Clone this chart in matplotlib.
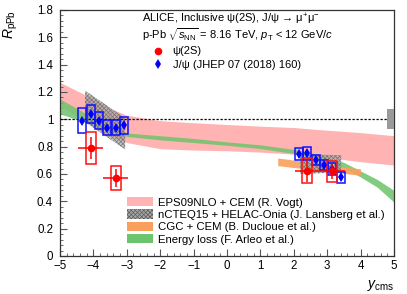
import numpy as np
import matplotlib
matplotlib.use("Agg")
import matplotlib.pyplot as plt
from matplotlib.patches import Rectangle, Patch
from matplotlib.lines import Line2D

plt.rcParams['font.family'] = ['Liberation Sans', 'DejaVu Sans']
plt.rcParams['mathtext.fontset'] = 'custom'
plt.rcParams['mathtext.rm'] = 'Liberation Sans'
plt.rcParams['mathtext.it'] = 'Liberation Sans:italic'
plt.rcParams['hatch.linewidth'] = 0.5

# J/psi (JHEP 07 (2018) 160)
jpsi_y = [-4.335, -4.085, -3.835, -3.585, -3.335, -3.085,
          2.155, 2.405, 2.655, 2.905, 3.155, 3.405]
jpsi_r = [0.99, 1.04, 0.99, 0.94, 0.94, 0.955,
          0.745, 0.75, 0.70, 0.665, 0.635, 0.575]
jpsi_stat = [0.02] * 12
jpsi_syst = [0.09, 0.067, 0.06, 0.053, 0.053, 0.06,
             0.046, 0.045, 0.036, 0.034, 0.044, 0.038]

# psi(2S)
psi_y = [-4.085, -3.335, 2.405, 3.155]
psi_xerr = [0.375, 0.375, 0.375, 0.375]
psi_r = [0.79, 0.571, 0.625, 0.62]
psi_stat = [0.081, 0.067, 0.08, 0.055]
psi_syst = [0.115, 0.088, 0.09, 0.076]

# global uncertainty
glob_unc = 0.073

# EPS09NLO + CEM
eps_x = [-5, -4.5, -4, -3.5, -3, -2, -1, 0, 1, 2, 3, 4, 5]
eps_lo = [1.10, 1.02, 0.95, 0.88, 0.83, 0.785, 0.775, 0.77, 0.76, 0.745, 0.72, 0.69, 0.665]
eps_hi = [1.27, 1.21, 1.15, 1.08, 1.03, 0.99, 0.975, 0.962, 0.95, 0.94, 0.92, 0.903, 0.88]

# Energy loss
el_x = [-5, -4.5, -4, -3.5, -3, -2, -1, 0, 1, 2, 2.5, 3, 3.5, 4, 4.5, 5]
el_lo = [1.04, 1.00, 0.955, 0.92, 0.875, 0.85, 0.83, 0.81, 0.786, 0.75, 0.725,
         0.685, 0.645, 0.578, 0.503, 0.394]
el_hi = [1.15, 1.08, 1.01, 0.955, 0.90, 0.88, 0.86, 0.835, 0.813, 0.78, 0.757,
         0.72, 0.685, 0.622, 0.56, 0.48]

# nCTEQ15 + HELAC-Onia
nc_bw_x = [-4.25, -3.05]
nc_bw_lo = [0.98, 0.78]
nc_bw_hi = [1.21, 1.01]
nc_fw_x = [2.19, 3.42]
nc_fw_lo = [0.60, 0.612]
nc_fw_hi = [0.745, 0.737]

# CGC + CEM
cgc_x = [1.52, 4.0]
cgc_lo = [0.661, 0.590]
cgc_hi = [0.717, 0.637]

pink = '#ffb3b3'
green = '#6cc46c'
orange = '#f9a05c'
grey = '#a8a8a8'
hatch_col = '#5a5a5a'

fig = plt.figure(figsize=(4.07, 2.94), dpi=100)
ax = fig.add_axes([0.1474, 0.1293, 0.8206, 0.8367])

ax.fill_between(eps_x, eps_lo, eps_hi, color=pink, lw=0, zorder=1)
ax.fill_between(el_x, el_lo, el_hi, color=green, alpha=0.85, lw=0, zorder=2)
ax.fill_between(cgc_x, cgc_lo, cgc_hi, color=orange, alpha=0.9, lw=0, zorder=2)
for xs, lo, hi in [(nc_bw_x, nc_bw_lo, nc_bw_hi), (nc_fw_x, nc_fw_lo, nc_fw_hi)]:
    ax.fill_between(xs, lo, hi, facecolor=grey, edgecolor=hatch_col,
                    hatch='xxxxxxxx', lw=0, alpha=0.7, zorder=3)

ax.plot([-5, 4.8], [1, 1], ls=(0, (1.8, 1.4)), color='black', lw=0.9, zorder=4)
ax.add_patch(Rectangle((4.8, 1 - glob_unc), 0.2, 2 * glob_unc,
                       facecolor='#9a9a9a', edgecolor='none', zorder=4))

for x, r, s in zip(jpsi_y, jpsi_r, jpsi_syst):
    ax.add_patch(Rectangle((x - 0.12, r - s), 0.24, 2 * s, fill=False,
                           edgecolor='#1010ff', lw=1.1, zorder=5))
for x, r, s in zip(psi_y, psi_r, psi_syst):
    ax.add_patch(Rectangle((x - 0.15, r - s), 0.30, 2 * s, fill=False,
                           edgecolor='#ff1010', lw=1.1, zorder=5))

ax.errorbar(jpsi_y, jpsi_r, yerr=jpsi_stat, fmt='d', color='#0000ff',
            ms=5, mew=0, elinewidth=1.0, capsize=0, zorder=6)
ax.errorbar(psi_y, psi_r, xerr=psi_xerr, yerr=psi_stat, fmt='o', color='#ff0000',
            ms=5.5, mew=0, elinewidth=1.1, capsize=0, zorder=7)

ax.set_xlim(-5, 5)
ax.set_ylim(0, 1.8)
ax.set_xticks(np.arange(-5, 6, 1))
ax.set_xticks(np.arange(-5, 5.01, 0.2), minor=True)
ax.set_yticks(np.arange(0, 1.81, 0.2))
ax.set_yticks(np.arange(0, 1.801, 0.04), minor=True)
ax.set_yticklabels(['0', '0.2', '0.4', '0.6', '0.8', '1', '1.2', '1.4', '1.6', '1.8'])
ax.tick_params(which='both', direction='in', color='#555555', top=False, right=False)
ax.tick_params(which='major', length=5, width=0.8, labelsize=8.3, pad=3)
ax.tick_params(axis='y', which='major', pad=5)
ax.tick_params(which='minor', length=2.5, width=0.6)
for sp in ax.spines.values():
    sp.set_color('#333333')
    sp.set_linewidth(0.9)

ax.set_ylabel(r'$R_{\mathrm{pPb}}$', loc='top', fontsize=10, labelpad=12)
ax.set_xlabel(r'$y_{\mathrm{cms}}$', loc='right', fontsize=10, labelpad=4)

ax.text(0.245, 0.962, r'ALICE, Inclusive ψ(2S), J/ψ → μ$^{+}$μ$^{-}$',
        transform=ax.transAxes, fontsize=8.0, va='center', ha='left')
ax.text(0.245, 0.899, r'p-Pb $\sqrt{s_{\mathrm{NN}}}$ = 8.16 TeV, $p_{\mathrm{T}}$ < 12 GeV/$c$',
        transform=ax.transAxes, fontsize=8.0, va='center', ha='left')

pt_handles = [Line2D([], [], marker='o', color='#ff0000', ls='none', ms=5.5, mew=0),
              Line2D([], [], marker='d', color='#0000ff', ls='none', ms=5, mew=0)]
leg1 = ax.legend(pt_handles, ['ψ(2S)', 'J/ψ (JHEP 07 (2018) 160)'],
                 loc='upper left', bbox_to_anchor=(0.272, 0.852), frameon=False,
                 fontsize=8.0, handlelength=1.2, handletextpad=0.75,
                 labelspacing=0.3, borderpad=0, borderaxespad=0)
ax.add_artist(leg1)

band_handles = [Patch(facecolor=pink, lw=0),
                Patch(facecolor=grey, edgecolor=hatch_col, hatch='xxxxxxxx', lw=0),
                Patch(facecolor=orange, lw=0),
                Patch(facecolor=green, lw=0)]
band_labels = ['EPS09NLO + CEM (R. Vogt)',
               'nCTEQ15 + HELAC-Onia (J. Lansberg et al.)',
               'CGC + CEM (B. Ducloue et al.)',
               'Energy loss (F. Arleo et al.)']
ax.legend(band_handles, band_labels, loc='upper left', bbox_to_anchor=(0.2, 0.24),
          frameon=False, fontsize=8.2, handlelength=2.3, handleheight=0.9,
          handletextpad=0.45, labelspacing=0.15, borderpad=0, borderaxespad=0)

fig.savefig('out.png', dpi=100)
